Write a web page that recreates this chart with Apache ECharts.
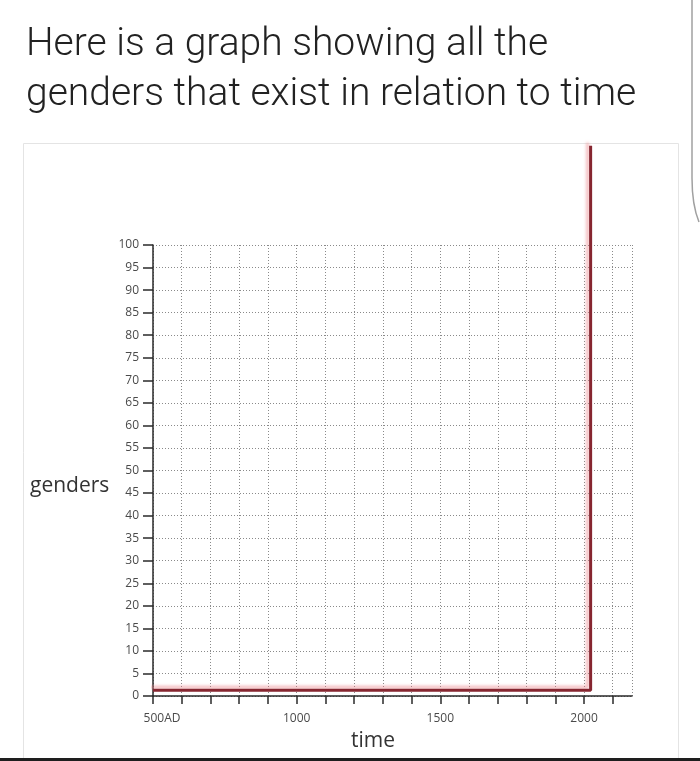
<!DOCTYPE html>
<html>
<head>
<meta charset="utf-8">
<script src="https://cdn.jsdelivr.net/npm/echarts@6/dist/echarts.min.js"></script>
<style>
  html, body { margin: 0; padding: 0; background: #fff; }
  #chart { width: 700px; height: 761px; }
</style>
</head>
<body>
<div id="chart"></div>
<script>
// the red line: flat for ages, then straight up past the top
const years = [500, 2023, 2023];
const genders = [1.3, 1.3, 122];

const xTickLabels = { 500: '500AD', 1000: '1000', 1500: '1500', 2000: '2000' };
const yMin = 0, yMax = 100, yStep = 5;
const xMin = 500, xMax = 2167, xStep = 100;

const labelColor = '#4a4a4a';
const gridColor = '#8a8a8a';
const axisColor = '#2a2a2a';

let chart = echarts.init(document.getElementById('chart'));

let option = {
    backgroundColor: '#fff',
    animation: false,
    title: {
        text: 'Here is a graph showing all the\ngenders that exist in relation to time',
        left: 21,
        top: 15,
        textStyle: {
            fontFamily: 'Roboto',
            fontWeight: 300,
            fontSize: 39,
            lineHeight: 50,
            color: '#222'
        }
    },
    graphic: [
        {
            type: 'rect',
            shape: { x: 23.5, y: 143.5, width: 655, height: 700 },
            style: { fill: 'none', stroke: '#e4e4e4', lineWidth: 1 },
            z: -1
        },
        {
            type: 'rect',
            shape: { x: 0, y: 758, width: 700, height: 3 },
            style: { fill: '#1e1e1e' }
        },
        {
            type: 'line',
            shape: { x1: 692, y1: 0, x2: 692, y2: 178 },
            style: { stroke: '#a0a0a0', lineWidth: 1.5 }
        },
        {
            type: 'bezierCurve',
            shape: { x1: 692, y1: 178, cpx1: 692, cpy1: 205, x2: 699, y2: 222 },
            style: { fill: 'none', stroke: '#a0a0a0', lineWidth: 1.5 }
        },
        {
            type: 'text',
            left: 30,
            top: 476,
            style: { text: 'genders', fontFamily: 'Open Sans', fontSize: 21, fill: '#333' }
        },
        {
            type: 'text',
            left: 351,
            top: 731,
            style: { text: 'time', fontFamily: 'Open Sans', fontSize: 21, fill: '#333' }
        }
    ],
    grid: {
        left: 153,
        right: 68,
        top: 245,
        bottom: 65
    },
    xAxis: {
        type: 'value',
        min: xMin,
        max: xMax,
        interval: xStep,
        axisLine: { show: true, lineStyle: { color: axisColor, width: 1.5 } },
        axisTick: { show: true, inside: false, length: 8, lineStyle: { color: axisColor, width: 1.5 } },
        axisLabel: {
            margin: 17,
            fontFamily: 'Open Sans',
            fontSize: 12,
            color: labelColor,
            showMaxLabel: false,
            formatter: function (v) {
                if (v === 500) return '{first|500AD}';
                return xTickLabels[v] || '';
            },
            rich: {
                first: { fontFamily: 'Open Sans', fontSize: 12, color: labelColor, padding: [0, 0, 0, 18] }
            }
        },
        splitLine: { show: true, lineStyle: { color: gridColor, type: [1, 2], width: 1 } }
    },
    yAxis: {
        type: 'value',
        min: yMin,
        max: yMax,
        interval: yStep,
        axisLine: { show: true, lineStyle: { color: axisColor, width: 1.5 } },
        axisTick: { show: true, inside: false, length: 10, lineStyle: { color: axisColor, width: 1.5 } },
        axisLabel: {
            margin: 14,
            fontFamily: 'Open Sans',
            fontSize: 12,
            color: labelColor
        },
        splitLine: { show: true, lineStyle: { color: gridColor, type: [1, 2], width: 1 } }
    },
    series: [
        {
            type: 'line',
            data: years.map((y, i) => [y, genders[i]]),
            clip: false,
            symbol: 'none',
            lineStyle: {
                color: '#862630',
                width: 3,
                shadowColor: 'rgba(235,130,135,0.55)',
                shadowBlur: 3,
                shadowOffsetX: -3,
                shadowOffsetY: -3
            },
            z: 5
        }
    ]
};

chart.setOption(option, true);
window.addEventListener('resize', function () {
    chart.resize();
});
</script>
</body>
</html>
